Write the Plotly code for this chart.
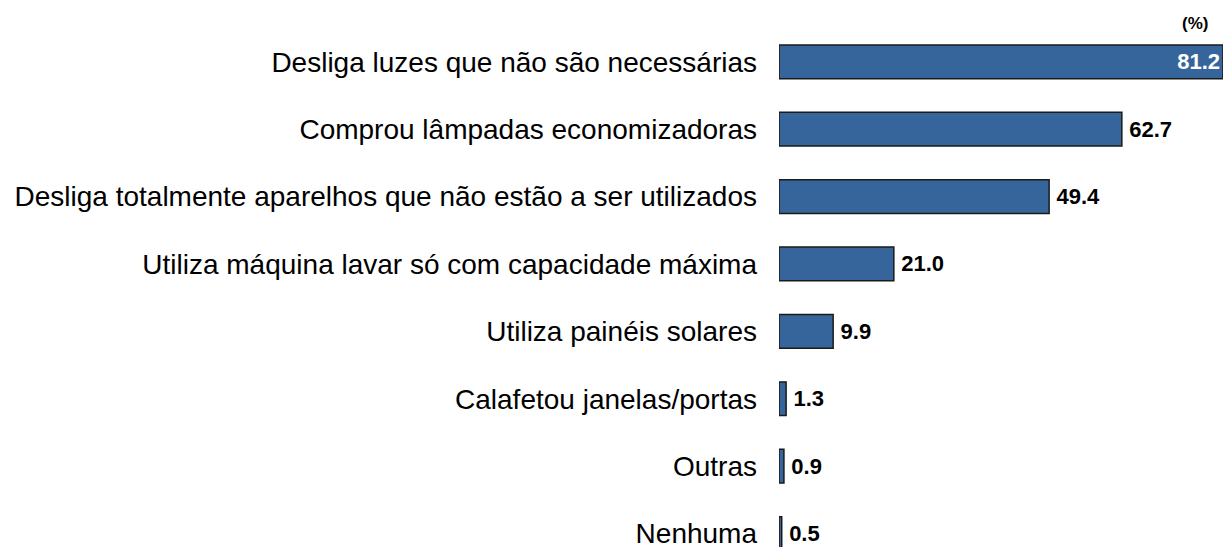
import plotly.graph_objects as go

categories = [
    "Desliga luzes que não são necessárias",
    "Comprou lâmpadas economizadoras",
    "Desliga totalmente aparelhos que não estão a ser utilizados",
    "Utiliza máquina lavar só com capacidade máxima",
    "Utiliza painéis solares",
    "Calafetou janelas/portas",
    "Outras",
    "Nenhuma",
]
values = [81.2, 62.7, 49.4, 21.0, 9.9, 1.3, 0.9, 0.5]

idx = list(range(len(categories)))
positions = ["inside"] + ["outside"] * (len(values) - 1)
value_labels = [("" if p == "inside" else "\u2009") + f"{v:.1f}" for v, p in zip(values, positions)]

FONT = "Liberation Sans, Arial, Helvetica"

fig = go.Figure(go.Bar(
    x=values,
    y=idx,
    orientation="h",
    marker=dict(color="#35659b", line=dict(color="#1a1a1a", width=1.5)),
    width=0.5,
    text=value_labels,
    textposition=positions,
    insidetextanchor="end",
    insidetextfont=dict(family=FONT, size=22, color="white"),
    outsidetextfont=dict(family=FONT, size=22, color="black"),
    cliponaxis=False,
    texttemplate="<b>%{text}</b>",
    hoverinfo="skip",
))

fig.update_layout(
    width=1224, height=549,
    margin=dict(l=779, r=1, t=0, b=0),
    paper_bgcolor="white", plot_bgcolor="white",
    showlegend=False,
    font=dict(family=FONT, color="black"),
)
fig.update_xaxes(range=[0, 81.2], visible=False, showgrid=False, zeroline=False)
fig.update_yaxes(
    range=[7.2, -0.917],
    tickvals=idx, ticktext=categories,
    tickfont=dict(size=28, color="black", family=FONT),
    showgrid=False, zeroline=False, showline=False,
    ticks="", ticklabelstandoff=21, ticklabeloverflow="allow",
)
fig.add_annotation(
    x=1, y=1, xref="paper", yref="paper", yanchor="top", xanchor="right",
    yshift=-12, xshift=-13,
    text="<b>(%)</b>", showarrow=False,
    font=dict(size=17, color="black", family=FONT),
)
fig.write_html(
    "out.html",
    config={"displayModeBar": False},
    post_script="document.body.style.margin='0';document.body.style.overflow='hidden';",
)
